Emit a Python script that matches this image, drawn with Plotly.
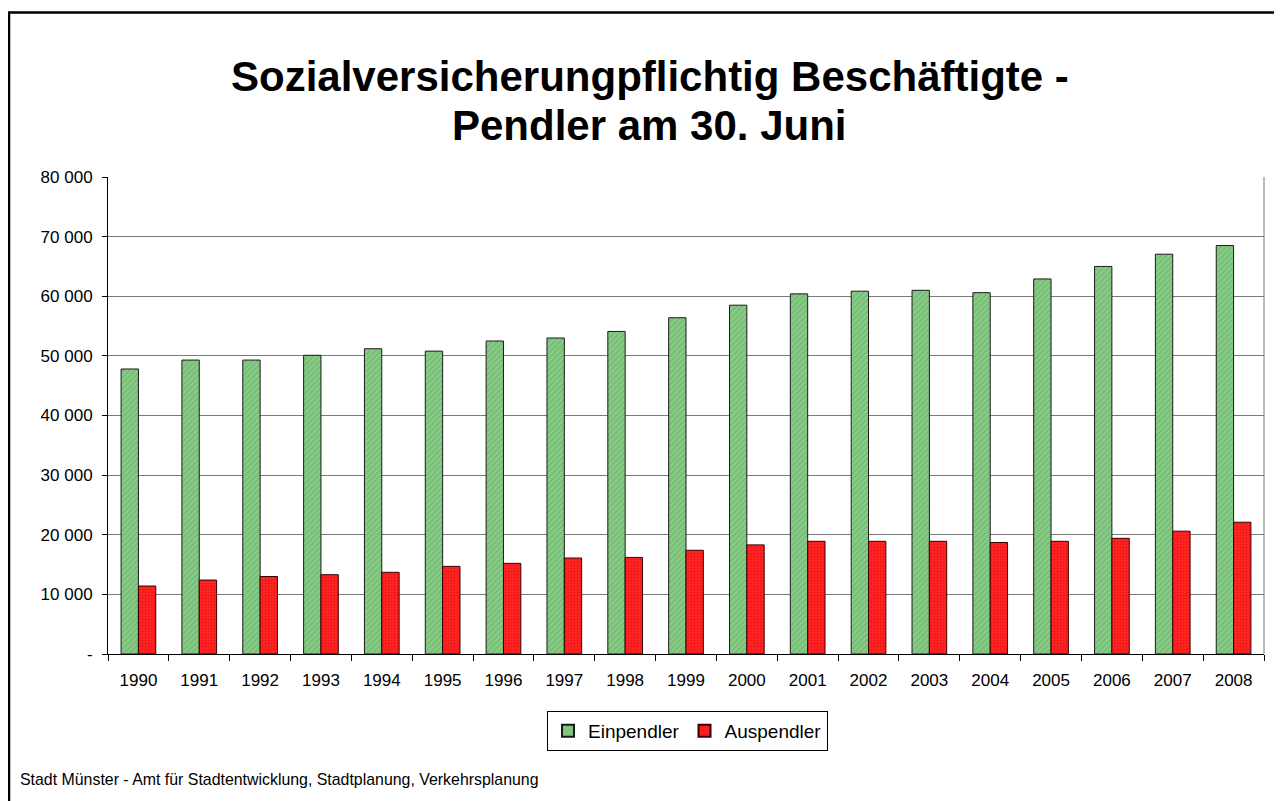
import plotly.graph_objects as go

years = [str(y) for y in range(1990, 2009)]
einpendler = [47800, 49300, 49300, 50100, 51200, 50800, 52500, 53000, 54100, 56400,
              58500, 60400, 60850, 61000, 60600, 62900, 65000, 67050, 68500]
auspendler = [11400, 12400, 13000, 13300, 13700, 14700, 15200, 16100, 16200, 17400,
              18300, 18900, 18900, 18900, 18700, 18900, 19400, 20600, 22100]
y_tickvals = [0, 10000, 20000, 30000, 40000, 50000, 60000, 70000, 80000]
y_ticktext = ["-", "10 000", "20 000", "30 000", "40 000", "50 000", "60 000", "70 000", "80 000"]

FONT = "Liberation Sans, Arial, sans-serif"
W, H = 1274, 793
ML, MR, MT, MB = 100, 18, 169, 147
PW, PH = W - ML - MR, H - MT - MB

def px(fx):
    return (fx - ML) / PW

def py(fy):
    return 1 - (fy - MT) / PH

fig = go.Figure()
fig.add_bar(
    x=years, y=einpendler, name="Einpendler",
    marker=dict(color="#86CC86", line=dict(color="#1a1a1a", width=1),
                pattern=dict(shape="/", fgcolor="#5E9E5E", size=4, solidity=0.3)),
)
fig.add_bar(
    x=years, y=auspendler, name="Auspendler",
    marker=dict(color="#FF2424", line=dict(color="#3a0000", width=1),
                pattern=dict(shape=".", fgcolor="#D00000", size=3, solidity=0.25)),
)

fig.update_layout(
    width=W, height=H,
    margin=dict(l=ML, r=MR, t=MT, b=MB, pad=0),
    paper_bgcolor="white", plot_bgcolor="white",
    barmode="group", bargap=0.43, bargroupgap=0,
    font=dict(family=FONT, color="black", size=17),
    showlegend=True,
    legend=dict(orientation="h", x=px(679.5), xanchor="center", y=py(703), yanchor="top",
                bordercolor="black", borderwidth=1, font=dict(size=19, family=FONT),
                itemsizing="constant", traceorder="normal", tracegroupgap=0,
                itemwidth=30, entrywidthmode="pixels"),
    xaxis=dict(type="category", showline=True, linecolor="black", linewidth=1,
               ticks="outside", tickson="boundaries", ticklen=6, tickcolor="black",
               tickfont=dict(size=17, family=FONT), showgrid=False, ticklabelstandoff=11),
    yaxis=dict(range=[0, 80000], tickvals=y_tickvals, ticktext=y_ticktext,
               showgrid=True, gridcolor="#7a7a7a", gridwidth=1,
               showline=True, linecolor="black", linewidth=1,
               ticks="outside", ticklen=5, tickcolor="black", zeroline=False,
               tickfont=dict(size=17, family=FONT), ticklabelstandoff=6),
    shapes=[
        dict(type="line", xref="paper", yref="paper", x0=1, x1=1, y0=0, y1=1,
             line=dict(color="#7a7a7a", width=1)),
        dict(type="rect", xref="paper", yref="paper",
             x0=px(1), x1=px(1320), y0=py(4.5), y1=py(840),
             line=dict(color="black", width=2.5)),
    ],
    annotations=[
        dict(text="<b>Sozialversicherungpflichtig Beschäftigte -</b>", xref="paper", yref="paper",
             x=px(641.5), y=py(69), xanchor="center", yanchor="middle", showarrow=False,
             font=dict(size=42, family=FONT)),
        dict(text="<b>Pendler am 30. Juni</b>", xref="paper", yref="paper",
             x=px(641.5), y=py(117), xanchor="center", yanchor="middle", showarrow=False,
             font=dict(size=42, family=FONT)),
        dict(text="Stadt Münster - Amt für Stadtentwicklung, Stadtplanung, Verkehrsplanung",
             xref="paper", yref="paper", x=px(10), y=py(771), xanchor="left", yanchor="middle",
             showarrow=False, font=dict(size=15.9, family=FONT)),
    ],
)

fig.write_html("out.html")
